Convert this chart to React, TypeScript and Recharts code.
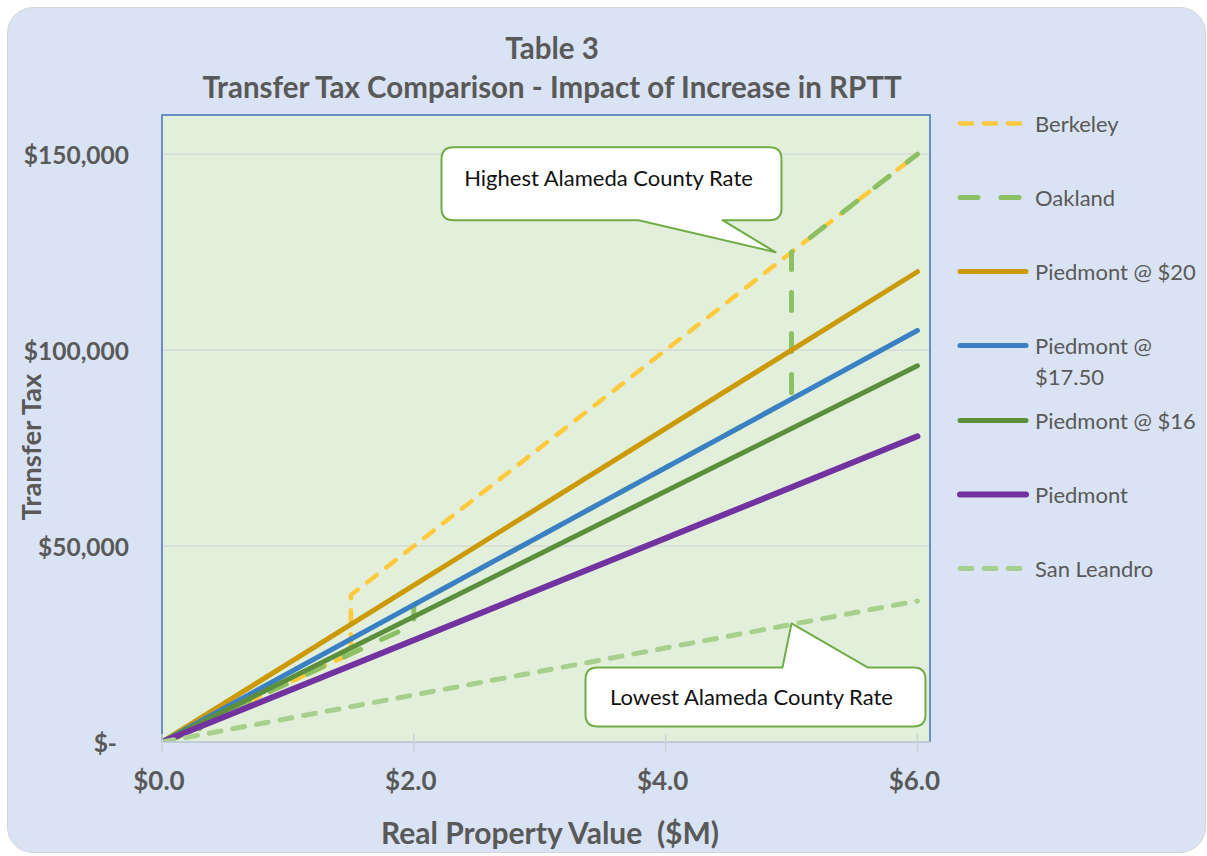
import React from 'react';
import { LineChart, Line, XAxis, YAxis, CartesianGrid, Legend, ReferenceDot, ReferenceArea } from 'recharts';

// ---------- data ----------
const seriesNames = ['Berkeley', 'Oakland', 'Piedmont @ $20', 'Piedmont @ $17.50', 'Piedmont @ $16', 'Piedmont', 'San Leandro'];

const berkeleyValueM = [0, 1.5, 1.5, 6];
const berkeleyTax = [0, 22500, 37500, 150000];

const oaklandValueM = [0, 0.3, 0.3, 2, 2, 5, 5, 6];
const oaklandTax = [0, 3000, 4500, 30000, 35000, 87500, 125000, 150000];

const piedmont20ValueM = [0, 6];
const piedmont20Tax = [0, 120000];

const piedmont1750ValueM = [0, 6];
const piedmont1750Tax = [0, 105000];

const piedmont16ValueM = [0, 6];
const piedmont16Tax = [0, 96000];

const piedmontValueM = [0, 6];
const piedmontTax = [0, 78000];

const sanLeandroValueM = [0, 6];
const sanLeandroTax = [0, 36000];

const xTicks = [0, 2, 4, 6];
const yTicks = [0, 50000, 100000, 150000];

const highestCallout = { valueM: 5, tax: 125000, text: 'Highest Alameda County Rate' };
const lowestCallout = { valueM: 5, tax: 30000, text: 'Lowest Alameda County Rate' };

const toPoints = (xs: number[], ys: number[]) => xs.map((x, i) => ({ valueM: x, tax: ys[i] }));

const FONT = 'Lato, "Open Sans", "Noto Sans", sans-serif';
const TEXT_GREY = '#595959';

const seriesStyles = [
  { color: '#FFC93C', width: 4.5, dash: '12 12' },
  { color: '#8DC063', width: 5, dash: '18 23' },
  { color: '#CC9A06', width: 5, dash: undefined },
  { color: '#3A80C5', width: 5, dash: undefined },
  { color: '#5B8F3B', width: 5, dash: undefined },
  { color: '#7233A1', width: 6, dash: undefined },
  { color: '#A8D08D', width: 5, dash: '12 12' },
];

const seriesData = [
  toPoints(berkeleyValueM, berkeleyTax),
  toPoints(oaklandValueM, oaklandTax),
  toPoints(piedmont20ValueM, piedmont20Tax),
  toPoints(piedmont1750ValueM, piedmont1750Tax),
  toPoints(piedmont16ValueM, piedmont16Tax),
  toPoints(piedmontValueM, piedmontTax),
  toPoints(sanLeandroValueM, sanLeandroTax),
];

// ---------- custom renderers ----------
const YTick = (props: any) => {
  const { x, y, payload } = props;
  const v = payload.value as number;
  const label = v === 0 ? '$-' : '$' + v.toLocaleString('en-US');
  return (
    <text x={x - (v === 0 ? 12 : 0)} y={y} textAnchor="end" dominantBaseline="central"
      fill={TEXT_GREY} fontSize={24.5} fontWeight={700} fontFamily={FONT}>{label}</text>
  );
};

const XTick = (props: any) => {
  const { x, y, payload } = props;
  return (
    <g>
      <line x1={x} x2={x} y1={y - 8} y2={y + 10} stroke="#CDD2DA" strokeWidth={1.5} />
      <text x={x - 3} y={y + 38} textAnchor="middle" dominantBaseline="central"
        fill={TEXT_GREY} fontSize={26} fontWeight={700} fontFamily={FONT}>{'$' + (payload.value as number).toFixed(1)}</text>
    </g>
  );
};

const PlotBorder = (props: any) => {
  const { x, y, width, height } = props;
  return (
    <path d={`M${x},${y + height} L${x},${y} L${x + width},${y} L${x + width},${y + height}`}
      fill="none" stroke="#4472C4" strokeWidth={1.5} />
  );
};

const HighCallout = (props: any) => {
  const { cx, cy } = props;
  const tx = cx - 16;
  const ty = cy;
  const l = tx - 334, rt = tx + 6, t = ty - 105, b = ty - 32, r = 12;
  const b1 = tx - 137, b2 = tx - 53;
  const d = `M${l + r},${t} H${rt - r} Q${rt},${t} ${rt},${t + r} V${b - r} Q${rt},${b} ${rt - r},${b} H${b2} L${tx},${ty} L${b1},${b} H${l + r} Q${l},${b} ${l},${b - r} V${t + r} Q${l},${t} ${l + r},${t} Z`;
  return (
    <g>
      <path d={d} fill="#FFFFFF" stroke="#70AD47" strokeWidth={2} strokeLinejoin="round" />
      <text x={tx - 167} y={ty - 75} textAnchor="middle" dominantBaseline="central"
        fill="#111111" fontSize={22} fontFamily={FONT}>{highestCallout.text}</text>
    </g>
  );
};

const LowCallout = (props: any) => {
  const { cx, cy } = props;
  const tx = cx;
  const ty = cy - 1;
  const l = tx - 206, rt = tx + 134, t = ty + 44, b = ty + 103, r = 12;
  const b1 = tx - 9, b2 = tx + 76;
  const d = `M${l + r},${t} H${b1} L${tx},${ty} L${b2},${t} H${rt - r} Q${rt},${t} ${rt},${t + r} V${b - r} Q${rt},${b} ${rt - r},${b} H${l + r} Q${l},${b} ${l},${b - r} V${t + r} Q${l},${t} ${l + r},${t} Z`;
  return (
    <g>
      <path d={d} fill="#FFFFFF" stroke="#70AD47" strokeWidth={2} strokeLinejoin="round" />
      <text x={tx - 40} y={ty + 73} textAnchor="middle" dominantBaseline="central"
        fill="#111111" fontSize={22} fontFamily={FONT}>{lowestCallout.text}</text>
    </g>
  );
};

const LegendContent = () => (
  <div style={{ position: 'relative', width: 250, height: 540, fontFamily: FONT }}>
    {seriesNames.map((name, i) => {
      const s = seriesStyles[i];
      const cy = 37 + i * 74.3;
      return (
        <div key={name} style={{ position: 'absolute', left: 0, top: cy - 15.5, display: 'flex', alignItems: 'flex-start' }}>
          <svg width={72} height={31} style={{ display: 'block', flex: 'none' }}>
            <line x1={3} x2={69} y1={15.5} y2={15.5} stroke={s.color} strokeWidth={s.width}
              strokeDasharray={s.dash} strokeLinecap="round" />
          </svg>
          <div style={{ marginLeft: 6, width: 168, fontSize: 22, lineHeight: '31px', color: TEXT_GREY }}>{name}</div>
        </div>
      );
    })}
  </div>
);

const XLabel = (props: any) => {
  const { viewBox } = props;
  return (
    <text x={viewBox.x + viewBox.width / 2 + 4} y={viewBox.y + 90} textAnchor="middle" dominantBaseline="central"
      fill={TEXT_GREY} fontSize={30} fontWeight={700} fontFamily={FONT} style={{ whiteSpace: 'pre' }}>
      {'Real Property Value  ($M)'}
    </text>
  );
};

const YLabel = (props: any) => {
  const { viewBox } = props;
  const x = viewBox.x - 32;
  const y = viewBox.y + 332;
  return (
    <text x={x} y={y} transform={`rotate(-90 ${x} ${y})`} textAnchor="middle" dominantBaseline="central"
      fill={TEXT_GREY} fontSize={27.5} fontWeight={700} fontFamily={FONT}>Transfer Tax</text>
  );
};

export default function App() {
  return (
    <div style={{ position: 'absolute', left: 7, top: 7, width: 1199, height: 846 }}>
      <div style={{ position: 'absolute', inset: 0, background: '#DAE3F3', border: '1px solid #D3D6DB', borderRadius: 26, boxSizing: 'border-box' }} />
      <div style={{ position: 'absolute', left: 0, top: 21, width: 1090, textAlign: 'center', fontFamily: FONT, fontWeight: 700, fontSize: 29.5, lineHeight: '39px', color: TEXT_GREY }}>
        <div>Table 3</div>
        <div>Transfer Tax Comparison - Impact of Increase in RPTT</div>
      </div>
      <div style={{ position: 'absolute', left: 0, top: 0 }}>
        <LineChart width={1199} height={846} margin={{ top: 108, right: 26, bottom: 51, left: 55 }}>
          <CartesianGrid vertical={false} fill="#E2EFDA" fillOpacity={1} stroke="#D6DAD9" strokeWidth={1.5} />
          <XAxis dataKey="valueM" type="number" domain={[0, 6.1]} ticks={xTicks} allowDataOverflow
            height={60} tickSize={0} tickMargin={0} tickLine={false} tick={<XTick />}
            axisLine={{ stroke: '#B8C4D6', strokeWidth: 1.5 }} label={<XLabel />} />
          <YAxis type="number" domain={[0, 160000]} ticks={yTicks} allowDataOverflow
            width={100} tickSize={0} tickMargin={33} tickLine={false} axisLine={false} tick={<YTick />}
            label={<YLabel />} />
          <ReferenceArea x1={0} x2={6.1} y1={0} y2={160000} shape={<PlotBorder />} ifOverflow="visible" />
          {seriesNames.map((name, i) => (
            <Line key={name} name={name} data={seriesData[i]} dataKey="tax" type="linear"
              stroke={seriesStyles[i].color} strokeWidth={seriesStyles[i].width}
              strokeDasharray={seriesStyles[i].dash} strokeLinecap="round" strokeLinejoin="round"
              dot={false} activeDot={false} isAnimationActive={false} />
          ))}
          <ReferenceDot x={highestCallout.valueM} y={highestCallout.tax} r={0} shape={<HighCallout />} ifOverflow="visible" />
          <ReferenceDot x={lowestCallout.valueM} y={lowestCallout.tax} r={0} shape={<LowCallout />} ifOverflow="visible" />
          <Legend layout="vertical" align="right" verticalAlign="top" content={<LegendContent />}
            wrapperStyle={{ left: 950, top: 79, width: 250 }} />
        </LineChart>
      </div>
    </div>
  );
}
